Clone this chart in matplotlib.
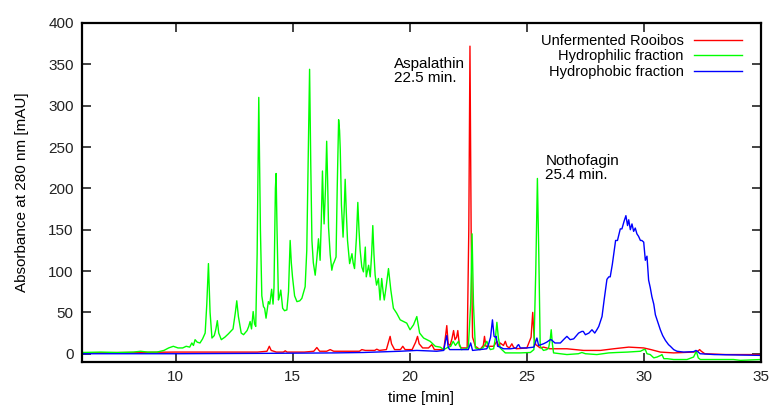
import matplotlib
matplotlib.use('Agg')
import matplotlib.pyplot as plt

plt.rcParams['font.family'] = ['Liberation Sans', 'DejaVu Sans']

# Cromatogramas (tiempo en min, absorbancia en mAU)
t_rooibos = [6.0, 8.0, 10.0, 11.5, 12.5, 13.5, 13.9, 14.0, 14.08, 14.3, 14.6, 14.68, 14.76,
             15.5, 15.9, 16.03, 16.15, 16.45, 16.6, 16.75, 17.5, 17.85, 17.95, 18.1, 18.5,
             18.59, 18.7, 19.0, 19.1, 19.16, 19.22, 19.35, 19.6, 19.7, 19.8, 20.1, 20.25,
             20.33, 20.4, 20.55, 20.8, 20.94, 21.05, 21.45, 21.52, 21.58, 21.64, 21.72, 21.8,
             21.87, 21.93, 22.0, 22.05, 22.12, 22.2, 22.45, 22.52, 22.57, 22.62, 22.68, 22.8,
             23.0, 23.14, 23.19, 23.25, 23.58, 23.65, 23.72, 23.8, 23.86, 24.0, 24.08, 24.15,
             24.25, 24.36, 24.43, 24.55, 25.0, 25.18, 25.25, 25.31, 25.38, 25.57, 25.71, 25.97,
             26.71, 27.42, 28.14, 28.71, 29.35, 29.99, 30.3, 30.7, 31.27, 32.12, 32.3, 32.38,
             32.45, 32.6, 33.5, 35.0]
a_rooibos = [1, 1.5, 2, 2, 2, 2, 3, 9, 4, 2, 2, 3.5, 2,
             2, 3, 7.5, 3, 3, 5, 3, 3, 3, 5, 4, 4,
             5.5, 4, 5, 15, 21, 12, 5, 5, 9, 5, 5, 14,
             21, 12, 7, 7, 11, 5, 5, 20, 34, 12, 10, 18,
             28, 17, 20, 28, 10, 7, 7, 150, 372, 150, 20, 9,
             5, 10, 21, 9, 9, 12, 15, 9, 13, 10, 15, 9,
             7, 12, 8, 6, 7, 20, 50, 20, 11, 7, 8, 6,
             6, 4, 4, 6, 8, 7, 5, 2, 1, 2, 3, 5,
             3, 0, -1, -1]

t_hidrofilica = [6.0, 6.8, 7.5, 8.2, 8.5, 8.8, 9.2, 9.5, 9.7, 9.9, 10.1, 10.3, 10.45, 10.6,
                 10.69, 10.76, 10.83, 10.92, 11.04, 11.15, 11.26, 11.33, 11.4, 11.47, 11.55,
                 11.65, 11.72, 11.78, 11.84, 11.95, 12.1, 12.25, 12.35, 12.45, 12.55, 12.61,
                 12.68, 12.8, 12.9, 13.05, 13.12, 13.18, 13.24, 13.31, 13.37, 13.42, 13.48,
                 13.55, 13.62, 13.68, 13.75, 13.8, 13.86, 13.96, 14.02, 14.1, 14.16, 14.2,
                 14.26, 14.29, 14.33, 14.39, 14.44, 14.49, 14.57, 14.65, 14.75, 14.82, 14.89,
                 14.94, 14.99, 15.08, 15.18, 15.3, 15.39, 15.47, 15.53, 15.6, 15.67, 15.72,
                 15.77, 15.82, 15.88, 15.96, 16.03, 16.1, 16.17, 16.22, 16.27, 16.31, 16.34,
                 16.4, 16.45, 16.49, 16.53, 16.6, 16.67, 16.72, 16.77, 16.85, 16.9, 16.96,
                 17.0, 17.03, 17.08, 17.15, 17.2, 17.24, 17.29, 17.34, 17.43, 17.48, 17.53,
                 17.58, 17.64, 17.72, 17.78, 17.83, 17.88, 17.95, 18.02, 18.1, 18.14, 18.24,
                 18.31, 18.37, 18.42, 18.47, 18.52, 18.58, 18.66, 18.73, 18.8, 18.86, 18.91,
                 18.99, 19.09, 19.14, 19.19, 19.3, 19.44, 19.59, 19.73, 19.87, 20.01, 20.16,
                 20.3, 20.36, 20.42, 20.59, 20.87, 21.09, 21.3, 21.45, 21.58, 21.75, 21.85,
                 21.95, 22.08, 22.2, 22.4, 22.5, 22.6, 22.66, 22.72, 22.8, 23.0, 23.15, 23.29,
                 23.38, 23.44, 23.58, 23.66, 23.72, 23.78, 23.86, 23.93, 24.08, 24.3, 24.72,
                 25.15, 25.3, 25.38, 25.45, 25.51, 25.57, 25.71, 25.85, 25.93, 26.0, 26.04,
                 26.09, 26.14, 26.71, 27.2, 27.35, 27.5, 27.99, 28.5, 28.85, 29.3, 29.85,
                 29.99, 30.06, 30.13, 30.27, 30.42, 30.56, 30.72, 30.77, 30.85, 30.99, 31.27,
                 31.84, 32.12, 32.24, 32.32, 32.41, 33.82, 34.12, 35.0]
a_hidrofilica = [1.5, 2, 1.5, 2, 3, 2, 2, 4, 7, 9, 7, 7, 9, 8,
                 13, 10, 17, 14, 13, 18, 25, 60, 109, 50, 19,
                 22, 30, 40, 25, 17, 20, 24, 27, 30, 50, 64,
                 45, 25, 23, 28, 33, 39, 30, 51, 36, 33, 120,
                 310, 150, 70, 57, 55, 43, 63, 60, 78, 60, 80,
                 200, 218, 150, 65, 70, 77, 55, 52, 53, 75, 137,
                 110, 93, 70, 63, 64, 67, 75, 81, 125, 250, 344,
                 230, 137, 110, 95, 115, 139, 113, 160, 221, 180, 157,
                 200, 257, 210, 153, 120, 101, 108, 111, 117, 200, 283,
                 270, 247, 180, 141, 175, 211, 170, 137, 109, 115, 121,
                 110, 103, 140, 183, 150, 125, 105, 99, 129, 93, 107,
                 93, 120, 155, 120, 95, 83, 91, 65, 91, 75, 65,
                 81, 103, 90, 77, 55, 49, 41, 39, 37, 29, 35,
                 45, 35, 25, 19, 15, 9, 8, 5, 7, 9, 15,
                 10, 15, 5, 6, 8, 60, 145, 60, 7, 5, 8, 15,
                 8, 5, 6, 20, 38, 20, 7, 5, 1, 1, 1,
                 1.5, 5, 100, 212, 120, 9, 4, 5, 7, 18, 29,
                 12, 1, -1, 0, 1.5, 0, -1, 1, 1.5, 2, 3,
                 5, 5, 0, -1, -5, -4, -2, -1, -6, -6, -7,
                 -7, -4, 3, -5, -7, -7, -8, -7]

t_hidrofobica = [6.0, 10.0, 14.0, 16.8, 18.0, 19.59, 20.3, 21.15, 21.45, 21.52, 21.58, 21.64,
                 21.7, 22.1, 22.5, 22.6, 22.68, 23.0, 23.29, 23.36, 23.45, 23.53, 23.6, 23.66,
                 23.69, 23.75, 23.86, 24.0, 24.3, 24.55, 24.6, 24.65, 24.72, 25.0, 25.3, 25.43,
                 25.5, 25.71, 25.85, 26.0, 26.04, 26.2, 26.43, 26.6, 26.71, 26.85, 27.0, 27.21,
                 27.35, 27.41, 27.5, 27.65, 27.78, 27.9, 27.99, 28.07, 28.21, 28.3, 28.42, 28.5,
                 28.56, 28.65, 28.79, 28.87, 28.99, 29.06, 29.15, 29.23, 29.3, 29.35, 29.42,
                 29.49, 29.56, 29.63, 29.7, 29.77, 29.85, 29.91, 29.99, 30.06, 30.13, 30.2,
                 30.27, 30.34, 30.42, 30.49, 30.56, 30.63, 30.7, 30.8, 30.92, 31.05, 31.13,
                 31.27, 31.41, 31.7, 32.12, 32.22, 32.28, 32.4, 33.0, 34.0, 35.0]
a_hidrofobica = [0, 0, 0.5, 1, 1.5, 3, 4, 3, 4, 15, 22, 8,
                 5, 5, 5, 13, 4, 5, 6, 11, 20, 41, 21, 20,
                 21, 9, 8, 6, 6, 7, 10, 11, 7, 7, 8, 19,
                 10, 12, 14, 17, 17, 13, 13, 18, 21, 17, 18, 25,
                 27, 27, 23, 25, 29, 25, 29, 33, 45, 65, 90, 93,
                 93, 108, 137, 137, 151, 151, 160, 167, 155, 162, 150,
                 157, 148, 152, 145, 142, 137, 137, 135, 113, 118, 89,
                 80, 69, 60, 47, 41, 35, 29, 22, 16, 11, 9,
                 5, 3, 2, 2.5, 4, 3, 0, -1, -1.5, -2]

etiquetas = ['Unfermented Rooibos', 'Hydrophilic fraction', 'Hydrophobic fraction']
colores = ['#ff0000', '#00ff00', '#0000ff']

fig = plt.figure(figsize=(7.72, 4.08), dpi=100)
ax = fig.add_axes([82 / 772, 46 / 408, 679 / 772, 339 / 408])

series = [(t_rooibos, a_rooibos), (t_hidrofilica, a_hidrofilica), (t_hidrofobica, a_hidrofobica)]
for (t, a), etiqueta, color in zip(series, etiquetas, colores):
    ax.plot(t, a, color=color, lw=1.0, label=etiqueta)

ax.set_xlim(6, 35)
ax.set_ylim(-10, 400)
ax.set_xticks([10, 15, 20, 25, 30, 35])
ax.set_yticks(range(0, 401, 50))
ax.tick_params(direction='in', length=6.5, width=1.2, top=True, right=True,
               labelsize=11, pad=6, colors='#222222')
for s in ax.spines.values():
    s.set_linewidth(1.6)

ax.set_xlabel('time [min]', fontsize=11, labelpad=5)
ax.set_ylabel('Absorbance at 280 nm [mAU]', fontsize=11, labelpad=14)

ax.text(19.33, 342, 'Aspalathin\n22.5 min.', fontsize=11, ha='left', va='center', linespacing=1.0)
ax.text(25.79, 225, 'Nothofagin\n25.4 min.', fontsize=11, ha='left', va='center', linespacing=1.0)

ax.legend(loc='upper right', bbox_to_anchor=(742 / 772, (408 - 34) / 408),
          bbox_transform=fig.transFigure, frameon=False, markerfirst=False,
          fontsize=10.5, handlelength=3.3, handletextpad=0.7, labelspacing=0.1,
          borderpad=0, borderaxespad=0)

fig.savefig('out.png', dpi=100)
